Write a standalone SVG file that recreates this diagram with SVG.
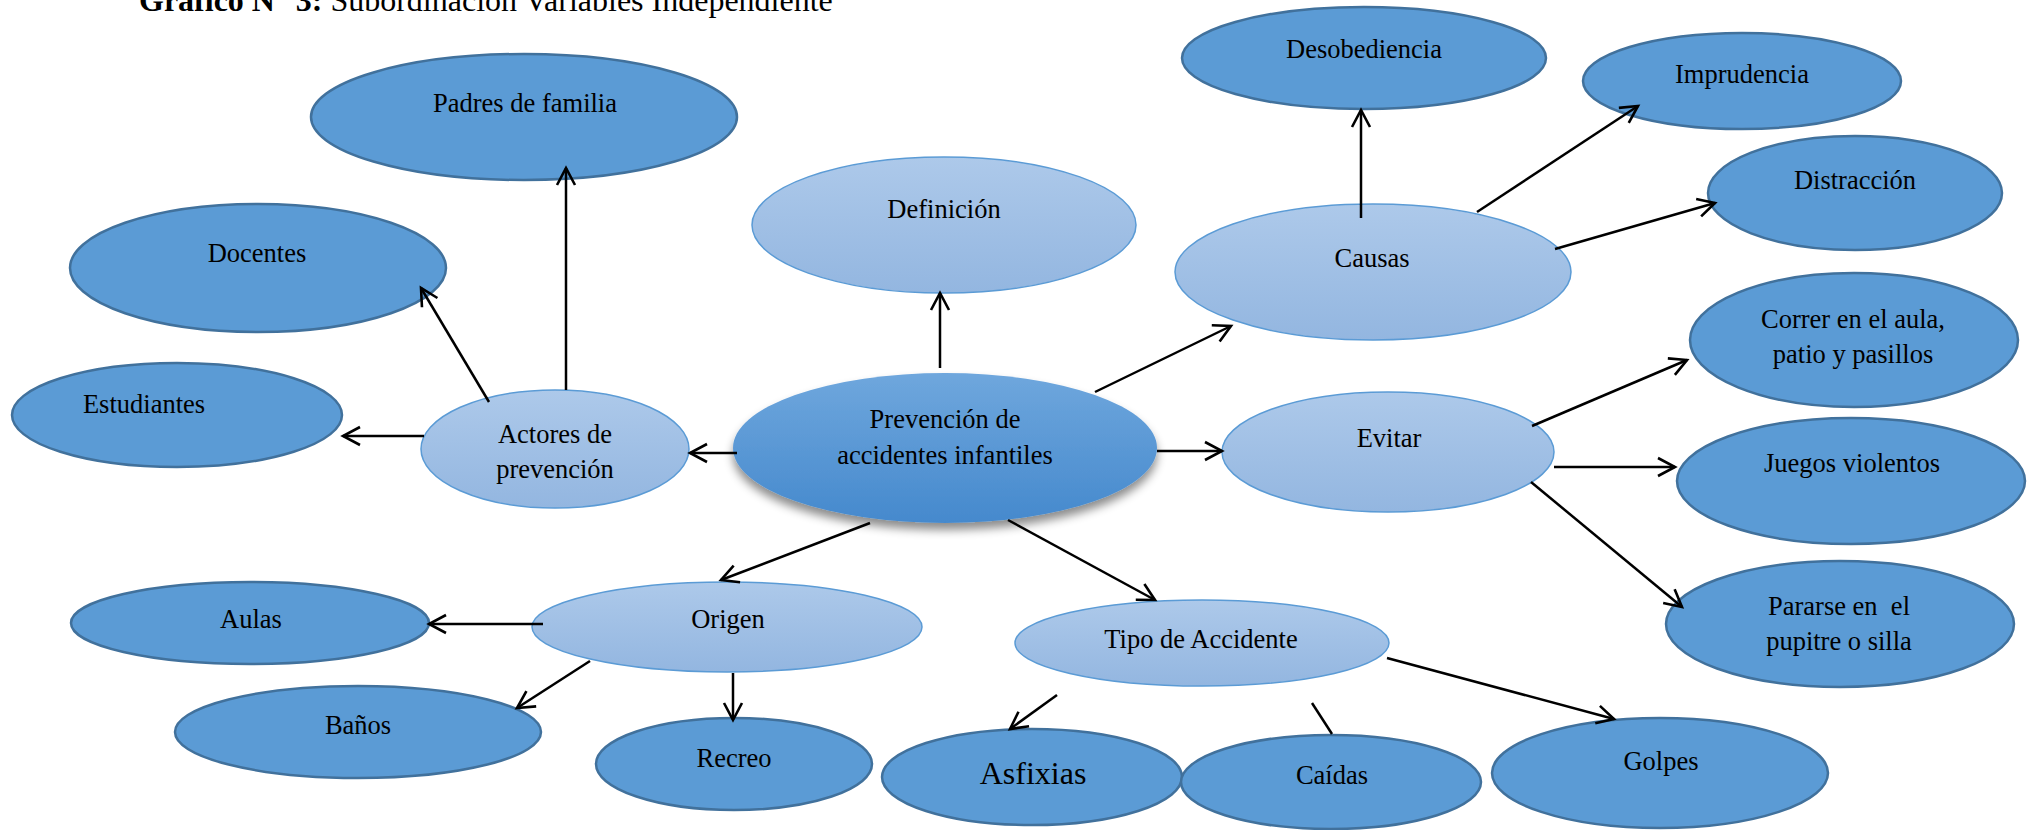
<svg xmlns="http://www.w3.org/2000/svg" width="2032" height="830" viewBox="0 0 2032 830">
<style>
text{font-family:"Liberation Serif","Times New Roman",serif;font-size:26.5px;fill:#000;text-anchor:middle}
.dark{fill:#5b9bd5;stroke:#41719c;stroke-width:2.5}
.light{fill:url(#lg);stroke:#5b9bd5;stroke-width:1.5}
.con line{stroke:#000;stroke-width:2.5;fill:none}
.arr{marker-end:url(#ah)}
</style>
<defs>
<linearGradient id="lg" x1="0" y1="0" x2="0" y2="1">
<stop offset="0" stop-color="#adc9ea"/>
<stop offset="1" stop-color="#93b6e0"/>
</linearGradient>
<linearGradient id="cg" x1="0" y1="0" x2="0" y2="1">
<stop offset="0" stop-color="#6fa7dd"/>
<stop offset="1" stop-color="#4589cd"/>
</linearGradient>
<filter id="sh" x="-20%" y="-20%" width="140%" height="150%">
<feDropShadow dx="0" dy="7" stdDeviation="5" flood-color="#000" flood-opacity="0.45"/>
</filter>
<marker id="ah" markerUnits="userSpaceOnUse" markerWidth="26" markerHeight="26" refX="0" refY="0" viewBox="-20 -13 24 26" orient="auto">
<path d="M-17,-9 L0,0 L-17,9" fill="none" stroke="#000" stroke-width="2.6"/>
</marker>
</defs>
<text x="139" y="11" style="font-size:32px;text-anchor:start"><tspan font-weight="bold">Gráfico N° 3:</tspan> Subordinación Variables Independiente</text>
<g id="padres"><ellipse class="dark" cx="524" cy="117" rx="213" ry="63"/><text x="525" y="112">Padres de familia</text></g>
<g id="docentes"><ellipse class="dark" cx="258" cy="268" rx="188" ry="64"/><text x="257" y="262">Docentes</text></g>
<g id="estudiantes"><ellipse class="dark" cx="177" cy="415" rx="165" ry="52"/><text x="144" y="413">Estudiantes</text></g>
<g id="definicion"><ellipse class="light" cx="944" cy="225" rx="192" ry="68"/><text x="944" y="218">Definición</text></g>
<g id="desobediencia"><ellipse class="dark" cx="1364" cy="58" rx="182" ry="51"/><text x="1364" y="58">Desobediencia</text></g>
<g id="imprudencia"><ellipse class="dark" cx="1742" cy="81" rx="159" ry="48"/><text x="1742" y="83">Imprudencia</text></g>
<g id="distraccion"><ellipse class="dark" cx="1855" cy="193" rx="147" ry="57"/><text x="1855" y="189">Distracción</text></g>
<g id="causas"><ellipse class="light" cx="1373" cy="272" rx="198" ry="68"/><text x="1372" y="267">Causas</text></g>
<g id="correr"><ellipse class="dark" cx="1854" cy="340" rx="164" ry="67"/><text x="1853" y="328">Correr en el aula,</text><text x="1853" y="363">patio y pasillos</text></g>
<g id="actores"><ellipse class="light" cx="555" cy="449" rx="134" ry="59"/><text x="555" y="443">Actores de</text><text x="555" y="478">prevención</text></g>
<g id="prevencion"><ellipse cx="945" cy="448" rx="212" ry="75" fill="url(#cg)" filter="url(#sh)"/><text x="945" y="428">Prevención de</text><text x="945" y="464">accidentes infantiles</text></g>
<g id="evitar"><ellipse class="light" cx="1388" cy="452" rx="166" ry="60"/><text x="1389" y="447">Evitar</text></g>
<g id="juegos"><ellipse class="dark" cx="1851" cy="481" rx="174" ry="63"/><text x="1852" y="472">Juegos violentos</text></g>
<g id="pararse"><ellipse class="dark" cx="1840" cy="624" rx="174" ry="63"/><text x="1839" y="615">Pararse en&#160; el</text><text x="1839" y="650">pupitre o silla</text></g>
<g id="origen"><ellipse class="light" cx="727" cy="627" rx="195" ry="45"/><text x="728" y="628">Origen</text></g>
<g id="aulas"><ellipse class="dark" cx="250" cy="623" rx="179" ry="41"/><text x="251" y="628">Aulas</text></g>
<g id="banos"><ellipse class="dark" cx="358" cy="732" rx="183" ry="46"/><text x="358" y="734">Baños</text></g>
<g id="recreo"><ellipse class="dark" cx="734" cy="764" rx="138" ry="46"/><text x="734" y="767">Recreo</text></g>
<g id="tipo"><ellipse class="light" cx="1202" cy="643" rx="187" ry="43"/><text x="1201" y="648">Tipo de Accidente</text></g>
<g id="asfixias"><ellipse class="dark" cx="1032" cy="777" rx="150" ry="48"/><text x="1033" y="784" style="font-size:32px">Asfixias</text></g>
<g id="caidas"><ellipse class="dark" cx="1331" cy="782" rx="150" ry="47"/><text x="1332" y="784">Caídas</text></g>
<g id="golpes"><ellipse class="dark" cx="1660" cy="773" rx="168" ry="55"/><text x="1661" y="770">Golpes</text></g>
<g id="connectors" class="con">
<line class="arr" x1="566" y1="390" x2="566" y2="168"/>
<line class="arr" x1="489" y1="402" x2="421" y2="288"/>
<line class="arr" x1="424" y1="436" x2="343" y2="436"/>
<line class="arr" x1="737" y1="453" x2="690" y2="453"/>
<line class="arr" x1="940" y1="368" x2="940" y2="293"/>
<line class="arr" x1="1095" y1="392" x2="1231" y2="326"/>
<line class="arr" x1="1361" y1="218" x2="1361" y2="110"/>
<line class="arr" x1="1477" y1="212" x2="1638" y2="106"/>
<line class="arr" x1="1555" y1="249" x2="1715" y2="203"/>
<line class="arr" x1="1157" y1="451" x2="1222" y2="451"/>
<line class="arr" x1="1532" y1="426" x2="1687" y2="360"/>
<line class="arr" x1="1554" y1="467" x2="1675" y2="467"/>
<line class="arr" x1="1531" y1="482" x2="1682" y2="607"/>
<line class="arr" x1="870" y1="523" x2="721" y2="580"/>
<line class="arr" x1="543" y1="624" x2="429" y2="624"/>
<line class="arr" x1="590" y1="661" x2="517" y2="708"/>
<line class="arr" x1="733" y1="673" x2="733" y2="720"/>
<line class="arr" x1="1008" y1="520" x2="1155" y2="600"/>
<line class="arr" x1="1057" y1="695" x2="1010" y2="729"/>
<line x1="1312" y1="703" x2="1332" y2="734"/>
<line class="arr" x1="1387" y1="658" x2="1614" y2="719"/>
</g>
</svg>
